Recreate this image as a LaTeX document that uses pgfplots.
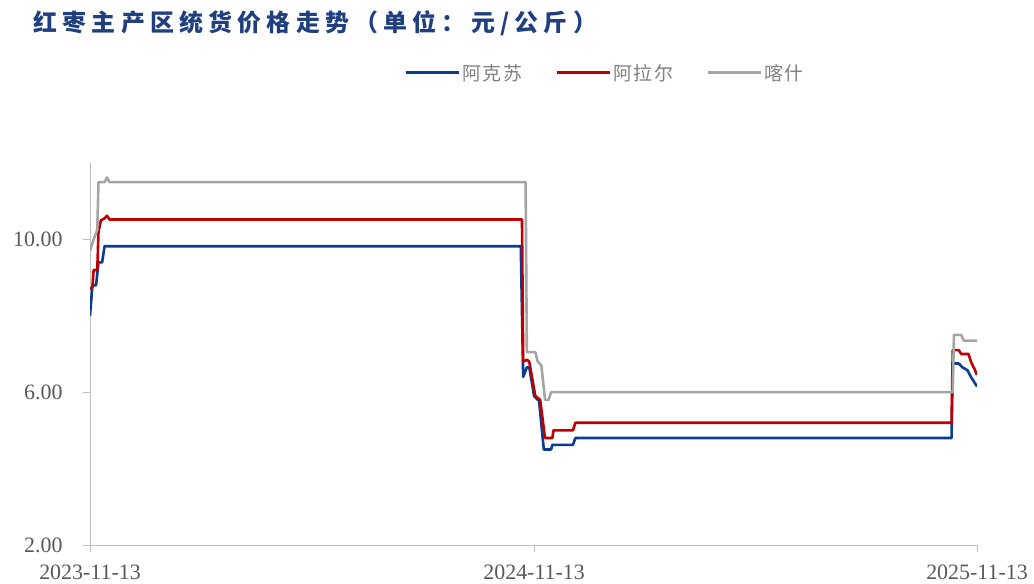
\documentclass[border=0pt]{standalone}
\usepackage{fontspec}
\setmainfont{Liberation Serif}
\newfontfamily\cjk[LetterSpace=8]{Noto Sans CJK SC}
\newfontfamily\cjktitle[LetterSpace=22]{Noto Sans CJK SC}
\usepackage{pgfplots}
\pgfplotsset{compat=1.18}
\definecolor{cblue}{HTML}{0A3D8F}
\definecolor{cred}{HTML}{C00000}
\definecolor{cgray}{HTML}{A5A5A5}
\definecolor{axgray}{HTML}{BFBFBF}
\definecolor{txtgray}{HTML}{595959}
\definecolor{leggray}{HTML}{7F7F7F}
\definecolor{titleblue}{HTML}{1F3F7F}
\begin{document}
\begin{tikzpicture}
\useasboundingbox (0bp,0bp) rectangle (1034bp,584bp);
\node[anchor=west, text=titleblue, font=\cjktitle\bfseries\fontsize{24}{24}\selectfont] at (30bp,561bp) {红枣主产区统货价格走势（单位：元/公斤）};
\begin{axis}[
  at={(90bp,39bp)}, anchor=south west,
  scale only axis, width=887bp, height=382bp,
  xmin=0, xmax=731, ymin=2, ymax=12,
  axis x line*=bottom, axis y line*=left,
  axis line style={-, axgray, line width=0.8bp},
  xtick={0,366,731},
  xticklabels={2023-11-13,2024-11-13,2025-11-13},
  ytick={2,6,10},
  tick style={axgray, line width=0.8bp},
  major tick length=7bp, tick align=outside,
  /pgf/number format/assume math mode=true,
  yticklabel style={/pgf/number format/fixed, /pgf/number format/fixed zerofill, /pgf/number format/precision=2, xshift=-17bp},
  ticklabel style={font=\fontsize{22}{22}\selectfont, text=txtgray},
  xticklabel style={yshift=-9bp},
  legend style={at={(0.5806,1.2356)}, anchor=center, draw=none, fill=none,
    legend columns=-1, font=\cjk\fontsize{19}{19}\selectfont, text=leggray,
    /tikz/every even column/.append style={column sep=31bp}},
  legend image code/.code={\draw[#1, line width=3bp] (0bp,0bp) -- (53bp,0bp);},
  line join=round,
]
\addplot[cblue, line width=2.6bp] coordinates {
(0,8.0) (2,8.8) (5,8.8) (7,9.4) (10,9.4) (12,9.82) (355,9.82) (357,6.4) (360,6.65) (362,6.65)
(366,5.9) (369,5.8) (370,5.8) (374,4.5) (380,4.5) (381,4.62) (398,4.62) (400,4.8) (710,4.8)
(711,6.75) (716,6.75) (719,6.65) (723,6.58) (726,6.4) (729,6.25) (731,6.15)};
\addlegendentry{阿克苏}
\addplot[cred, line width=2.6bp] coordinates {
(0,8.7) (2,8.75) (3,9.2) (6,9.2) (7,10.2) (9,10.5) (12,10.55) (14,10.62) (16,10.52) (356,10.52)
(357,6.8) (360,6.85) (362,6.8) (367,5.9) (371,5.8) (375,4.8) (381,4.8) (382,5.0) (398,5.0)
(400,5.2) (710,5.2) (711,7.1) (716,7.1) (718,7.0) (724,7.0) (726,6.8) (729,6.6) (731,6.45)};
\addlegendentry{阿拉尔}
\addplot[cgray, line width=2.6bp] coordinates {
(0,9.7) (3,10.0) (6,10.25) (7,11.5) (12,11.5) (14,11.62) (16,11.5) (359,11.5) (360,7.05)
(367,7.05) (369,6.8) (372,6.7) (375,5.8) (378,5.8) (380,6.0) (711,6.0) (712,7.5) (718,7.5)
(720,7.35) (731,7.35)};
\addlegendentry{喀什}
\end{axis}
\end{tikzpicture}
\end{document}
